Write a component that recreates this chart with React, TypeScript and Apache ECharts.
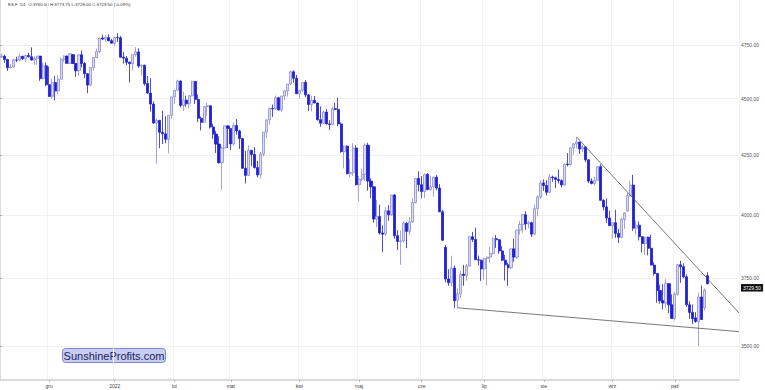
import React, { useEffect, useRef } from "react";
import * as echarts from "echarts";

// ---- categories (trading days) ----
const dates = [
  // 2021-11
  "2021-11-08","2021-11-09","2021-11-10","2021-11-11","2021-11-12","2021-11-15","2021-11-16","2021-11-17","2021-11-18","2021-11-19","2021-11-22","2021-11-23","2021-11-24","2021-11-26","2021-11-29","2021-11-30",
  // 2021-12
  "2021-12-01","2021-12-02","2021-12-03","2021-12-06","2021-12-07","2021-12-08","2021-12-09","2021-12-10","2021-12-13","2021-12-14","2021-12-15","2021-12-16","2021-12-17","2021-12-20","2021-12-21","2021-12-22","2021-12-23","2021-12-27","2021-12-28","2021-12-29","2021-12-30","2021-12-31",
  // 2022-01
  "2022-01-03","2022-01-04","2022-01-05","2022-01-06","2022-01-07","2022-01-10","2022-01-11","2022-01-12","2022-01-13","2022-01-14","2022-01-18","2022-01-19","2022-01-20","2022-01-21","2022-01-24","2022-01-25","2022-01-26","2022-01-27","2022-01-28","2022-01-31",
  // 2022-02
  "2022-02-01","2022-02-02","2022-02-03","2022-02-04","2022-02-07","2022-02-08","2022-02-09","2022-02-10","2022-02-11","2022-02-14","2022-02-15","2022-02-16","2022-02-17","2022-02-18","2022-02-22","2022-02-23","2022-02-24","2022-02-25","2022-02-28",
  // 2022-03
  "2022-03-01","2022-03-02","2022-03-03","2022-03-04","2022-03-07","2022-03-08","2022-03-09","2022-03-10","2022-03-11","2022-03-14","2022-03-15","2022-03-16","2022-03-17","2022-03-18","2022-03-21","2022-03-22","2022-03-23","2022-03-24","2022-03-25","2022-03-28","2022-03-29","2022-03-30","2022-03-31",
  // 2022-04
  "2022-04-01","2022-04-04","2022-04-05","2022-04-06","2022-04-07","2022-04-08","2022-04-11","2022-04-12","2022-04-13","2022-04-14","2022-04-18","2022-04-19","2022-04-20","2022-04-21","2022-04-22","2022-04-25","2022-04-26","2022-04-27","2022-04-28","2022-04-29",
  // 2022-05
  "2022-05-02","2022-05-03","2022-05-04","2022-05-05","2022-05-06","2022-05-09","2022-05-10","2022-05-11","2022-05-12","2022-05-13","2022-05-16","2022-05-17","2022-05-18","2022-05-19","2022-05-20","2022-05-23","2022-05-24","2022-05-25","2022-05-26","2022-05-27","2022-05-31",
  // 2022-06
  "2022-06-01","2022-06-02","2022-06-03","2022-06-06","2022-06-07","2022-06-08","2022-06-09","2022-06-10","2022-06-13","2022-06-14","2022-06-15","2022-06-16","2022-06-17","2022-06-21","2022-06-22","2022-06-23","2022-06-24","2022-06-27","2022-06-28","2022-06-29","2022-06-30",
  // 2022-07
  "2022-07-01","2022-07-05","2022-07-06","2022-07-07","2022-07-08","2022-07-11","2022-07-12","2022-07-13","2022-07-14","2022-07-15","2022-07-18","2022-07-19","2022-07-20","2022-07-21","2022-07-22","2022-07-25","2022-07-26","2022-07-27","2022-07-28","2022-07-29",
  // 2022-08
  "2022-08-01","2022-08-02","2022-08-03","2022-08-04","2022-08-05","2022-08-08","2022-08-09","2022-08-10","2022-08-11","2022-08-12","2022-08-15","2022-08-16","2022-08-17","2022-08-18","2022-08-19","2022-08-22","2022-08-23","2022-08-24","2022-08-25","2022-08-26","2022-08-29","2022-08-30","2022-08-31",
  // 2022-09
  "2022-09-01","2022-09-02","2022-09-06","2022-09-07","2022-09-08","2022-09-09","2022-09-12","2022-09-13","2022-09-14","2022-09-15","2022-09-16","2022-09-19","2022-09-20","2022-09-21","2022-09-22","2022-09-23","2022-09-26","2022-09-27","2022-09-28","2022-09-29","2022-09-30",
  // 2022-10
  "2022-10-03","2022-10-04","2022-10-05","2022-10-06","2022-10-07","2022-10-10","2022-10-11","2022-10-12","2022-10-13","2022-10-14","2022-10-17","2022-10-18",
];

// empty slots to the right of the last bar
const futureDates = ["2022-10-19","2022-10-20","2022-10-21","2022-10-24","2022-10-25","2022-10-26","2022-10-27","2022-10-28","2022-10-31","2022-11-01"];

// ---- OHLC values ----
const opens = [
  4694,4698,4682,4643,4646,4680,4679,4697,4685,4701,4695,4679,4687,4698,4592,4652,
  4564,4510,4574,4535,4589,4683,4698,4664,4705,4663,4629,4704,4663,4615,4562,4644,4691,4720,4785,4780,4787,4772,
  4760,4788,4786,4693,4688,4669,4662,4705,4718,4651,4655,4569,4525,4475,4390,4402,4349,4342,4318,4424,
  4508,4538,4581,4469,4493,4476,4513,4579,4496,4411,4393,4464,4467,4372,4341,4297,4217,4280,4377,
  4366,4298,4379,4355,4321,4193,4163,4270,4252,4196,4165,4254,4350,4404,4455,4453,4504,4448,4512,4535,4567,4624,4594,
  4522,4538,4575,4517,4473,4492,4480,4405,4389,4439,4386,4383,4454,4451,4386,4264,4288,4170,4175,4280,
  4124,4147,4167,4292,4139,4115,3983,3993,3927,3922,4016,4000,4081,3916,3893,3895,3966,3933,3971,4050,4150,
  4124,4095,4168,4103,4115,4155,4110,4012,3870,3748,3734,3789,3668,3692,3766,3761,3797,3912,3901,3822,3820,
  3786,3826,3832,3846,3904,3900,3856,3820,3802,3791,3864,3832,3938,3961,4000,3963,3968,3922,4025,4073,
  4131,4120,4092,4156,4153,4146,4141,4123,4211,4209,4281,4298,4306,4276,4285,4229,4139,4129,4142,4200,4059,4032,3987,
  3956,3968,3925,3910,3981,4015,4078,4122,3946,3958,3912,3885,3910,3866,3801,3769,3704,3666,3658,3730,3651,
  3601,3690,3802,3795,3756,3651,3623,3603,3590,3680,3640,3760,
];
const highs = [
  4711,4705,4685,4661,4685,4695,4711,4700,4705,4714,4740,4697,4699,4700,4669,4668,
  4649,4592,4605,4609,4691,4702,4700,4710,4708,4665,4706,4725,4670,4618,4645,4691,4734,4786,4801,4798,4803,4781,
  4790,4808,4795,4717,4699,4672,4706,4741,4736,4658,4657,4604,4594,4487,4410,4403,4445,4420,4424,4508,
  4538,4587,4583,4532,4513,4515,4582,4581,4519,4419,4464,4481,4470,4387,4355,4331,4286,4377,4381,
  4367,4393,4408,4360,4325,4268,4291,4272,4284,4225,4264,4350,4404,4457,4473,4514,4508,4512,4538,4567,4629,4631,4610,
  4540,4575,4585,4520,4513,4512,4482,4464,4445,4452,4403,4463,4481,4504,4393,4291,4292,4232,4301,4292,
  4161,4192,4300,4303,4150,4117,4060,4041,3957,4031,4039,4082,4084,3938,3936,3974,3970,3991,4068,4152,4180,
  4160,4171,4172,4162,4158,4164,4126,4020,3880,3785,3837,3800,3712,3780,3802,3805,3913,3931,3948,3838,3822,
  3830,3833,3871,3911,3919,3902,3875,3840,3810,3864,3904,3940,3975,4003,4014,3976,3972,4041,4080,4142,
  4146,4142,4168,4162,4158,4187,4146,4212,4258,4283,4302,4328,4307,4294,4287,4230,4150,4157,4201,4210,4064,4067,4016,
  3971,4020,3943,3988,4011,4090,4140,4165,3975,3973,3914,3912,3912,3920,3812,3770,3726,3728,3747,3732,3690,
  3700,3806,3818,3808,3765,3664,3652,3624,3696,3723,3712,3773.75,
];
const lows = [
  4689,4666,4628,4640,4643,4669,4672,4680,4669,4691,4680,4656,4657,4582,4588,4557,
  4507,4498,4492,4520,4589,4671,4662,4660,4660,4600,4605,4645,4594,4525,4558,4630,4688,4712,4774,4766,4769,4759,
  4745,4766,4691,4663,4655,4574,4630,4695,4642,4606,4560,4522,4441,4387,4212,4279,4297,4301,4256,4407,
  4475,4536,4460,4444,4463,4456,4510,4476,4394,4357,4390,4421,4365,4320,4259,4213,4102,4279,4280,
  4271,4290,4338,4276,4191,4129,4160,4202,4192,4154,4150,4243,4322,4382,4417,4450,4447,4440,4493,4509,4562,4573,4522,
  4499,4530,4506,4444,4442,4479,4400,4373,4385,4384,4359,4380,4447,4376,4260,4192,4167,4155,4160,4120,
  4054,4139,4140,4099,4068,3968,3950,3920,3851,3915,3976,3996,3904,3860,3802,3887,3867,3918,3966,4046,4096,
  4068,4068,4101,4100,4074,4101,4011,3895,3735,3722,3720,3639,3640,3675,3722,3741,3795,3891,3820,3800,3740,
  3745,3723,3810,3842,3868,3845,3816,3742,3722,3786,3814,3825,3920,3927,3939,3945,3911,3918,3993,4064,
  4098,4079,4088,4136,4109,4129,4113,4118,4201,4205,4250,4278,4254,4262,4219,4130,4125,4120,4140,4058,4018,3966,3955,
  3904,3907,3887,3905,3943,4012,4075,3935,3920,3897,3849,3840,3839,3800,3760,3659,3655,3634,3640,3620,3600,
  3593,3685,3733,3750,3643,3599,3580,3585,3502,3595,3630,3728,
];
const closes = [
  4698,4682,4643,4646,4680,4679,4697,4685,4701,4695,4679,4687,4698,4592,4652,4564,
  4510,4574,4535,4589,4683,4698,4664,4709,4663,4629,4704,4663,4615,4562,4644,4691,4720,4785,4780,4787,4772,4760,
  4788,4786,4693,4688,4669,4662,4705,4718,4651,4655,4569,4525,4475,4390,4402,4349,4342,4318,4424,4508,
  4538,4581,4469,4493,4476,4513,4579,4496,4411,4393,4464,4467,4372,4341,4297,4217,4280,4377,4366,
  4298,4379,4355,4321,4193,4163,4270,4252,4196,4165,4254,4350,4404,4455,4453,4504,4448,4512,4535,4567,4624,4594,4522,
  4538,4575,4517,4473,4492,4480,4405,4389,4439,4386,4383,4454,4451,4386,4264,4288,4170,4175,4280,4124,
  4147,4167,4292,4139,4115,3983,3993,3927,3922,4016,4000,4081,3916,3893,3895,3966,3933,3971,4050,4150,4124,
  4095,4168,4103,4115,4155,4110,4012,3898,3748,3734,3789,3666,3692,3766,3761,3797,3912,3901,3822,3820,3786,
  3826,3832,3846,3904,3900,3856,3820,3802,3791,3864,3832,3938,3961,4000,3963,3968,3922,4025,4073,4131,
  4120,4092,4156,4153,4146,4141,4123,4211,4209,4281,4298,4306,4276,4285,4229,4139,4129,4142,4200,4059,4032,3987,3956,
  3968,3925,3910,3981,4007,4078,4122,3946,3958,3912,3885,3910,3866,3801,3769,3704,3666,3658,3730,3651,3601,
  3690,3802,3795,3756,3651,3623,3600,3590,3680,3597,3705,3729.5,
];

// ---- axis ticks / labels ----
const priceTicks = [3500, 3750, 4000, 4250, 4500, 4750];
const priceRange = [3383, 4973];
const monthNames = ["sty", "lut", "mar", "kwi", "maj", "cze", "lip", "sie", "wrz", "paź", "lis", "gru"];

// ---- trend lines: anchor date ("edge" = right border of the plot) and price ----
const upperTrendDates = ["2022-08-16", "edge"];
const upperTrendPrices = [4328, 3621];
const lowerTrendDates = ["2022-06-17", "edge"];
const lowerTrendPrices = [3640, 3553];

const headerText = "ES.F  D1  O:3760.00 H:3773.75 L:3728.00 C:3729.50 (-0.09%)";
const badgeText = "SunshineProfits.com";

const FONT = "'Liberation Sans', Arial, Helvetica, sans-serif";

export default function App() {
  const ref = useRef<HTMLDivElement>(null);

  useEffect(() => {
    if (!ref.current) return;
    const chart = echarts.init(ref.current, null, { renderer: "svg" });

    const categories = [...dates, ...futureDates];
    const totalSlots = categories.length;
    const ln = Math.log;

    const candleData = dates.map((_, i) => [ln(opens[i]), ln(closes[i]), ln(lows[i]), ln(highs[i])]);

    const isMonthStart = (i: number) =>
      i > 0 && i < dates.length && categories[i].slice(0, 7) !== categories[i - 1].slice(0, 7);

    const monthLabel = (d: string) => {
      const m = parseInt(d.slice(5, 7), 10);
      return m === 1 ? d.slice(0, 4) : monthNames[m - 1];
    };

    const slotOf = (d: string) => (d === "edge" ? totalSlots : categories.indexOf(d) + 0.5);
    const trend = (ds: string[], ps: number[]) => ds.map((d, i) => [slotOf(d), ln(ps[i])]);

    const last = dates.length - 1;

    chart.setOption({
      animation: false,
      backgroundColor: "#ffffff",
      textStyle: { fontFamily: FONT },
      grid: { left: 0, right: 26, top: 0, bottom: 10, containLabel: false, outerBoundsMode: "none" },
      xAxis: [
        {
          type: "category",
          data: categories,
          boundaryGap: true,
          axisLine: { show: true, lineStyle: { color: "#cfcfcf", width: 1.5 } },
          axisTick: {
            show: true,
            alignWithLabel: true,
            interval: (i: number) => isMonthStart(i),
            length: 2,
            lineStyle: { color: "#bbbbbb" },
          },
          axisLabel: {
            interval: (i: number) => isMonthStart(i),
            formatter: (v: string) => monthLabel(v),
            fontSize: 5,
            color: "#444444",
            margin: 3,
            fontFamily: FONT,
          },
          splitLine: {
            show: true,
            interval: (i: number) => isMonthStart(i),
            lineStyle: { color: "#f2f2f2", width: 1 },
          },
        },
        { type: "value", min: 0, max: totalSlots, show: false },
      ],
      yAxis: {
        type: "value",
        position: "right",
        min: ln(priceRange[0]),
        max: ln(priceRange[1]),
        scale: true,
        axisLine: { show: true, lineStyle: { color: "#cfcfcf", width: 1.5 } },
        axisTick: {
          show: true,
          length: 2,
          customValues: priceTicks.map(ln),
          lineStyle: { color: "#aaaaaa" },
        },
        axisLabel: {
          customValues: priceTicks.map(ln),
          formatter: (v: number) => Math.exp(v).toFixed(2),
          fontSize: 5,
          color: "#555555",
          margin: 2,
          fontFamily: FONT,
        },
        splitLine: {
          show: true,
          customValues: priceTicks.map(ln),
          lineStyle: { color: "#f0f0f0", width: 1 },
        },
      },
      series: [
        {
          type: "candlestick",
          xAxisIndex: 0,
          yAxisIndex: 0,
          data: candleData,
          barWidth: 2.6,
          itemStyle: {
            color: "#dcdcf4",
            borderColor: "#8c8cd6",
            color0: "#1f1fd3",
            borderColor0: "#1f1fd3",
            borderWidth: 0.8,
          },
          markLine: {
            silent: true,
            symbol: ["none", "none"],
            lineStyle: { color: "rgba(0,0,0,0)", width: 0 },
            label: {
              show: true,
              position: "end",
              distance: 2,
              formatter: closes[last].toFixed(2),
              backgroundColor: "#111111",
              color: "#ffffff",
              fontSize: 5,
              padding: [1.5, 2, 1, 2],
              fontFamily: FONT,
              opacity: 1,
            },
            data: [{ yAxis: ln(closes[last]) }],
          },
        },
        {
          type: "line",
          xAxisIndex: 1,
          yAxisIndex: 0,
          data: trend(upperTrendDates, upperTrendPrices),
          symbol: "none",
          silent: true,
          lineStyle: { color: "#555555", width: 0.8 },
        },
        {
          type: "line",
          xAxisIndex: 1,
          yAxisIndex: 0,
          data: trend(lowerTrendDates, lowerTrendPrices),
          symbol: "none",
          silent: true,
          lineStyle: { color: "#555555", width: 0.8 },
        },
      ],
      graphic: [
        {
          type: "text",
          left: 8,
          top: 2,
          style: { text: headerText, fontSize: 4.4, fill: "#333333", fontFamily: FONT },
        },
        {
          type: "group",
          left: 62,
          top: 348,
          children: [
            {
              type: "rect",
              shape: { x: 0, y: 0, width: 103, height: 14, r: 3 },
              style: { fill: "#c8cdf2", stroke: "#7f89c8", lineWidth: 1 },
            },
            {
              type: "text",
              x: 51.5,
              y: 7.2,
              style: {
                text: badgeText,
                fontSize: 11,
                fill: "#161c5c",
                fontFamily: FONT,
                align: "center",
                verticalAlign: "middle",
              },
            },
          ],
        },
      ],
    });

    return () => chart.dispose();
  }, []);

  return (
    <div
      ref={ref}
      style={{ position: "fixed", left: 0, top: 0, width: 765, height: 390, background: "#ffffff" }}
    />
  );
}
